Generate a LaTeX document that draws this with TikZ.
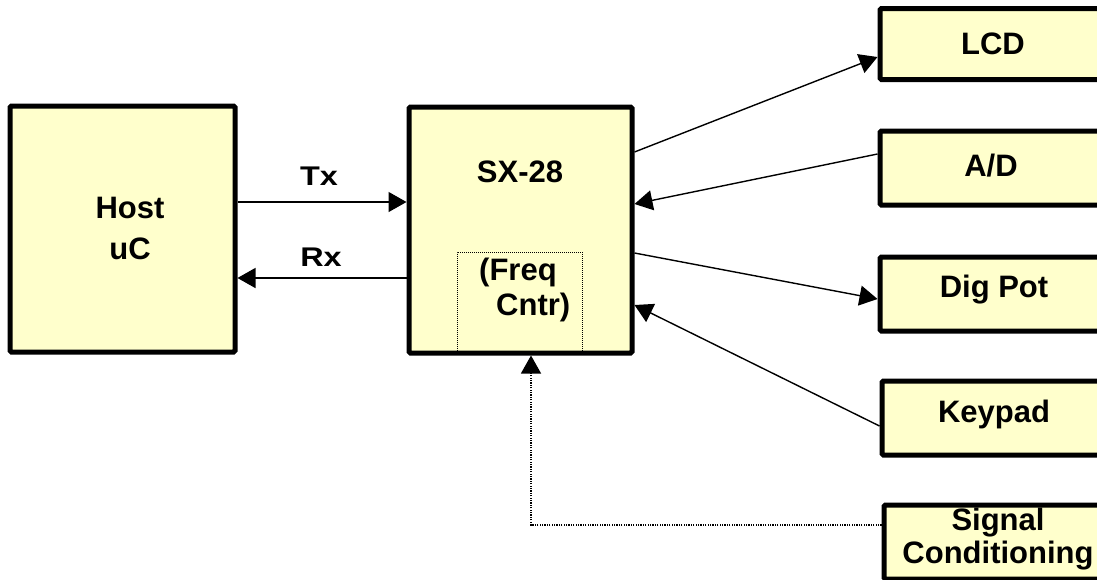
\documentclass[tikz,border=0pt]{standalone}
\usepackage{fontspec}
\setmainfont{Liberation Sans}
\usetikzlibrary{arrows.meta}
\definecolor{boxfill}{HTML}{FFFFCC}
\tikzset{
  blk/.style={draw=black, line width=5pt, fill=boxfill, rounded corners=1.5pt, inner sep=0pt},
  btxt/.style={font=\fontsize{31}{41}\selectfont\bfseries, align=center, inner sep=0pt},
  lbl/.style={font=\fontsize{27}{30}\selectfont\bfseries, inner sep=0pt},
  arr/.style={line width=1.4pt, -{Triangle[length=18pt,width=20pt]}},
  dotline/.style={line width=1.2pt, dash pattern=on 1.2pt off 1.2pt},
}
\begin{document}
\begin{tikzpicture}[x=1pt,y=-1pt]
\useasboundingbox (0,0) rectangle (1097,579);
\clip (0,0) rectangle (1097,579);
\fill[white] (0,0) rectangle (1097,579);
% main boxes
\node[blk, minimum width=225pt, minimum height=246pt] (host) at (122.5,229) {};
\node[btxt] (hosttxt) at (130,228) {Host\\uC};
\node[blk, minimum width=223pt, minimum height=246pt] (sx) at (520.5,230) {};
\node[btxt] (sxtxt) at (520,172) {SX-28};
% inner dotted box
\coordinate (fctl) at (457,252);
\coordinate (fcbr) at (582,351);
\draw[line width=1pt, dash pattern=on 1pt off 1pt] (fctl |- sx.south) ++(0,-2.5) -- (fctl) -- (fctl -| fcbr) -- ([yshift=2.5pt]fcbr |- sx.south);
\node[btxt, anchor=west, align=left, font=\fontsize{31}{35}\selectfont\bfseries] (fctxt) at (479,290) {(Freq\\\hspace*{17pt}Cntr)};
% right boxes
\node[blk, minimum width=228pt, minimum height=71pt] (lcd) at (994,44) {};
\node[btxt] (lcdt) at (993,44) {LCD};
\node[blk, minimum width=228pt, minimum height=74pt] (ad) at (994,168) {};
\node[btxt] (adt) at (991,166) {A/D};
\node[blk, minimum width=228pt, minimum height=74pt] (dp) at (994,294) {};
\node[btxt] (dpt) at (994,290) {Dig Pot};
\node[blk, minimum width=228pt, minimum height=74pt] (kp) at (996,418) {};
\node[btxt] (kpt) at (994,414) {Keypad};
\node[blk, minimum width=228pt, minimum height=74pt] (sc) at (998,542) {};
\node[btxt, font=\fontsize{31}{33}\selectfont\bfseries] (sct) at (998,539) {Signal\\Conditioning};
% Tx / Rx
\coordinate (txy) at (0,202);
\coordinate (rxy) at (0,278);
\draw[arr] (host.east |- txy) -- (sx.west |- txy);
\draw[arr] (sx.west |- rxy) -- (host.east |- rxy);
\node[lbl] (txl) at (319,176) {\scalebox{1.2}[1]{Tx}};
\node[lbl] (rxl) at (321,257) {\scalebox{1.2}[1]{Rx}};
% diagonal connectors
\coordinate (y1) at (0,152);
\coordinate (y2) at (0,57);
\draw[arr] (sx.east |- y1) -- (lcd.west |- y2);
\coordinate (y3) at (0,154);
\coordinate (y4) at (0,204);
\draw[arr] (ad.west |- y3) -- (sx.east |- y4);
\coordinate (y5) at (0,253);
\coordinate (y6) at (0,299);
\draw[arr] (sx.east |- y5) -- (dp.west |- y6);
\coordinate (y7) at (0,426);
\coordinate (y8) at (0,305);
\draw[arr] (kp.west |- y7) -- (sx.east |- y8);
% signal conditioning dotted
\coordinate (corner) at (531,525);
\draw[dotline, -{Triangle[length=18pt,width=20pt]}] (sc.west |- corner) -- (corner) -- (corner |- sx.south);
\end{tikzpicture}
\end{document}
